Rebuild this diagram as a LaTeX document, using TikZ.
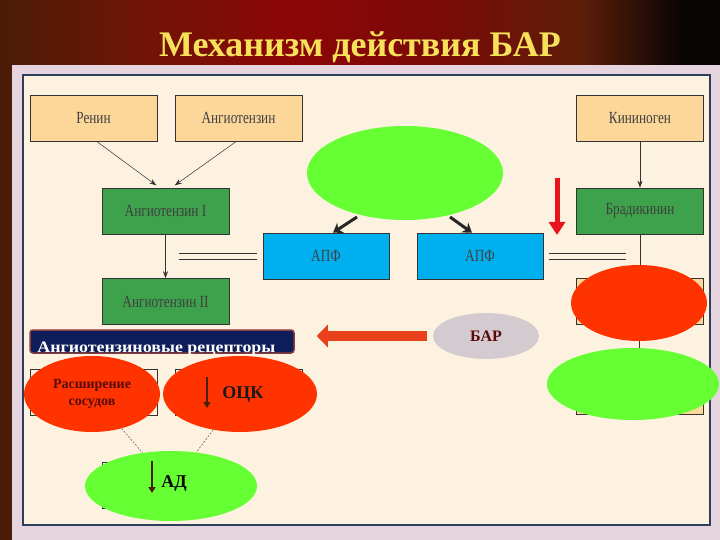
\documentclass[tikz,border=0pt]{standalone}
\usepackage{fontspec}
\setmainfont{Liberation Serif}
\newfontfamily\boxfont{Liberation Serif}[FakeStretch=0.78]
\newfontfamily\widebold{Liberation Serif}[FakeStretch=1.12]
\usetikzlibrary{positioning,shapes.geometric,arrows.meta}

\definecolor{slideA}{HTML}{4A1C08}
\definecolor{slideB}{HTML}{6B1606}
\definecolor{slideC}{HTML}{8C0606}
\definecolor{slideD}{HTML}{7A0A08}
\definecolor{slideE}{HTML}{5E1E08}
\definecolor{slideF}{HTML}{0A0505}
\definecolor{framepink}{HTML}{E6D5DE}
\definecolor{panelcream}{HTML}{FDF1DF}
\definecolor{panelborder}{HTML}{2E3F5C}
\definecolor{peach}{HTML}{FDD699}
\definecolor{boxgreen}{HTML}{3EA14B}
\definecolor{apfblue}{HTML}{00B0EE}
\definecolor{limegreen}{HTML}{66FF33}
\definecolor{hotred}{HTML}{FF3300}
\definecolor{arrowred}{HTML}{E8141C}
\definecolor{navybar}{HTML}{0E1E5B}
\definecolor{barrim}{HTML}{8A3B3B}
\definecolor{titleyellow}{HTML}{F7E15A}
\definecolor{maroontext}{HTML}{5A0A0A}
\definecolor{barfill}{HTML}{D4CBD1}
\definecolor{fatred}{HTML}{E8401A}
\definecolor{brownarrow}{HTML}{4A2008}

\begin{document}
\begin{tikzpicture}[
		x=1pt,y=-1pt,
		stage/.style={
			draw=black!80,
			line width=0.6pt,
			minimum width=127pt,
			minimum height=46pt,
			inner sep=0pt,
			font=\boxfont\fontsize{17}{19}\selectfont,
			text=black!75,
		},
		source/.style={stage,fill=peach},
		product/.style={stage,fill=boxgreen},
		enzyme/.style={stage,fill=apfblue,minimum width=126pt},
		hidden/.style={draw=black!80,line width=0.6pt,minimum width=127pt,minimum height=46pt,inner sep=0pt},
		blob/.style={ellipse,inner sep=0pt},
		effect/.style={blob,fill=hotred,font=\bfseries\fontsize{14}{17}\selectfont,text=maroontext,align=center},
		calm/.style={blob,fill=limegreen,font=\bfseries\fontsize{18}{20}\selectfont},
		rule/.style={black!80,line width=0.6pt},
		thin arrow/.style={-{Stealth[length=7pt,width=5pt]},black!80,line width=0.5pt},
		heavy arrow/.style={-{Stealth[length=9pt,width=12pt]},black!85,line width=3pt},
		down arrow/.style={-{Triangle[length=6pt,width=7pt]},brownarrow,line width=2.5pt},
		>=Stealth
		]
		% Draw the slide background and panel
		\useasboundingbox (0,0) rectangle (720,540);
		\shade[left color=slideA,right color=slideB] (0,0) rectangle (120,540);
		\shade[left color=slideB,right color=slideC] (120,0) rectangle (290,540);
		\shade[left color=slideC,right color=slideD] (290,0) rectangle (440,540);
		\shade[left color=slideD,right color=slideE] (440,0) rectangle (580,540);
		\shade[left color=slideE,right color=slideF] (580,0) rectangle (680,540);
		\fill[slideF] (680,0) rectangle (720,540);
		\fill[framepink] (12,65) rectangle (720,540);
		\draw[panelborder,line width=2pt,fill=panelcream] (23,75) rectangle (710,525);
		\node[text=titleyellow,font=\bfseries\fontsize{36}{40}\selectfont] (title) at (360,47) {Механизм действия БАР};
		% Draw the cascade boxes
		\node[source] (renin) at (93.5,118) {Ренин};
		\node[source] (angio) at (238.5,118) {Ангиотензин};
		\node[product] (angI) at (165.5,211) {Ангиотензин I};
		\node[product] (angII) at (165.5,301.5) {Ангиотензин II};
		\node[enzyme] (apfL) at (326,256) {АПФ};
		\node[enzyme] (apfR) at (480,256) {АПФ};
		\node[source] (kininogen) at (640,118) {Кининоген};
		\node[product] (bradykinin) at (640,211) {Брадикинин};
		% Draw the boxes hidden under the ellipses
		\node[hidden] (hidA) at (93.5,392) {};
		\node[hidden] (hidB) at (238.5,392) {};
		\node[hidden] (hidC) at (165.5,485) {};
		\node[hidden,fill=peach] (hidD) at (640,301.5) {};
		\node[hidden,fill=peach] (hidE) at (640,391.5) {};
		% Draw the arrows of the cascade
		\draw[thin arrow,shorten >=4pt] ([xshift=3pt]renin.south) -- ([xshift=-6pt]angI.north);
		\draw[thin arrow,shorten >=4pt] ([xshift=-2pt]angio.south) -- ([xshift=6pt]angI.north);
		\draw[thin arrow] (angI) -- (angII);
		\draw[thin arrow] (kininogen) -- (bradykinin);
		\foreach \y in {253,259} {
			\draw[rule] (179,\y) -- (257,\y);
			\draw[rule] (549,\y) -- (626,\y);
		}
		% Draw the ACE ellipse and its arrows
		\node[calm,minimum width=196pt,minimum height=94pt] (ace) at (405,173) {};
		\draw[heavy arrow] ([xshift=-48pt,yshift=-44pt]ace.center) -- ([xshift=7pt]apfL.north);
		\draw[heavy arrow] ([xshift=45pt,yshift=-44pt]ace.center) -- ([xshift=-8pt]apfR.north);
		% Draw the bradykinin side
		\coordinate (redTop) at (557,178);
		\coordinate (redTip) at (557,235);
		\draw[-{Triangle[length=13pt,width=16pt]},arrowred,line width=5pt] (redTop) -- (redTip);
		\node[effect,minimum width=136pt,minimum height=76pt] (redR) at (639,303) {};
		\node[calm,minimum width=172pt,minimum height=72pt] (greenR) at (633,384) {};
		\draw[rule] (bradykinin.south) -- (bradykinin.south |- redR.north);
		\draw[rule] (redR.south) -- (redR.south |- greenR.north);
		% Draw the receptor bar and the drug
		\node[draw=barrim,line width=1.5pt,fill=navybar,rounded corners=3pt,minimum width=264pt,minimum height=23pt,inner sep=0pt] (receptors) at (162,341.5) {};
		\node[anchor=base west,text=white,font=\widebold\bfseries\fontsize{16}{18}\selectfont,inner sep=0pt] (recText) at ([xshift=8pt,yshift=1pt]receptors.south west) {Ангиотензиновые рецепторы};
		\node[blob,fill=barfill,minimum width=106pt,minimum height=46pt,font=\bfseries\fontsize{16}{18}\selectfont,text=maroontext] (bar) at (486,336) {БАР};
		\draw[-{Triangle[length=11pt,width=22pt]},fatred,line width=10pt] ([xshift=-6pt]bar.west) -- ([xshift=22pt]receptors.east |- bar.west);
		% Draw the effects
		\node[effect,minimum width=136pt,minimum height=76pt] (wide) at (92,394) {Расширение\\сосудов};
		\node[effect,minimum width=154pt,minimum height=76pt,font=\bfseries\fontsize{18}{20}\selectfont,text=black!90] (ock) at (240,394) {\hspace*{6pt}ОЦК};
		\draw[down arrow] ([xshift=-33pt,yshift=17pt]ock.center) -- ([xshift=-33pt,yshift=-14pt]ock.center);
		\node[calm,minimum width=172pt,minimum height=70pt] (ad) at (171,486) {\raisebox{8pt}{\hspace*{6pt}АД}};
		\draw[down arrow] ([xshift=-19pt,yshift=25pt]ad.center) -- ([xshift=-19pt,yshift=-7pt]ad.center);
		\draw[black!60,line width=0.6pt,dash pattern=on 2pt off 1.5pt] (wide) -- (ad);
		\draw[black!60,line width=0.6pt,dash pattern=on 2pt off 1.5pt] (ock) -- (ad);
	\end{tikzpicture}
\end{document}
